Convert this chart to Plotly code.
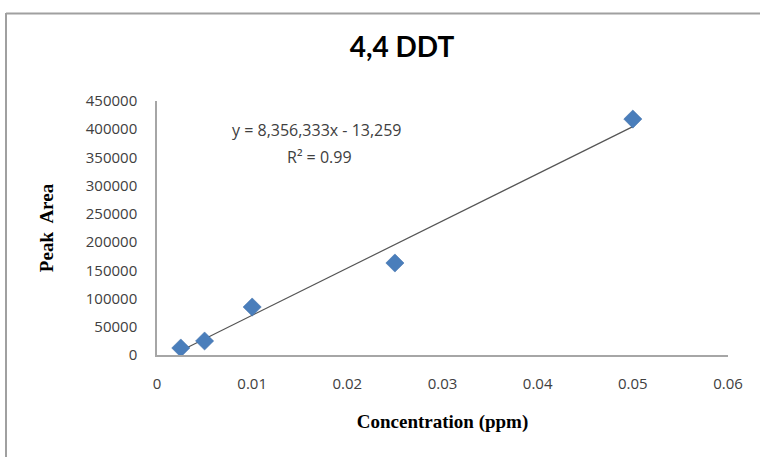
import plotly.graph_objects as go

# Calibration standards for 4,4 DDT
concentration_ppm = [0.0025, 0.005, 0.01, 0.025, 0.05]
peak_area = [12400, 24800, 85000, 163000, 418000]

# Linear trendline as reported
slope = 8356333
intercept = -13259
r_squared = 0.99

x_ticks = [0, 0.01, 0.02, 0.03, 0.04, 0.05, 0.06]
x_tick_text = ["0", "0.01", "0.02", "0.03", "0.04", "0.05", "0.06"]
y_ticks = [0, 50000, 100000, 150000, 200000, 250000, 300000, 350000, 400000, 450000]
y_tick_text = [str(v) for v in y_ticks]

trend_x = [min(concentration_ppm), max(concentration_ppm)]
trend_y = [slope * x + intercept for x in trend_x]

label_font = "Open Sans, Lato, Arial, sans-serif"
serif_font = "Liberation Serif, Times New Roman, serif"
text_color = "#404040"
axis_color = "#a6a6a6"

# plot-area geometry in pixels, used for the outer frame lines
L, R, T, B = 157, 32, 101, 102
W, H = 760, 457
pw, ph = W - L - R, H - T - B

fig = go.Figure()
fig.add_trace(go.Scatter(
    x=trend_x, y=trend_y, mode="lines",
    line=dict(color="#555555", width=1.2),
    hoverinfo="skip", showlegend=False,
))
fig.add_trace(go.Scatter(
    x=concentration_ppm, y=peak_area, mode="markers",
    marker=dict(symbol="diamond", size=14, color="#4a7ebb",
                line=dict(color="#3c6da8", width=0.5)),
    showlegend=False,
))

fig.update_layout(
    width=W, height=H,
    margin=dict(l=L, r=R, t=T, b=B),
    paper_bgcolor="white", plot_bgcolor="white",
    title=dict(text="<b>4,4 DDT</b>", x=402 / W, xanchor="center",
               y=1 - 47 / H, yanchor="middle",
               font=dict(family="Lato, Open Sans, sans-serif", size=28, color="#000000")),
    xaxis=dict(
        range=[0, 0.06], tickvals=x_ticks, ticktext=x_tick_text,
        showgrid=False, zeroline=False, showline=True,
        linecolor=axis_color, linewidth=1.5, ticks="",
        ticklabelstandoff=14,
        tickfont=dict(family=label_font, size=15, color=text_color),
        title=dict(text="<b>Concentration (ppm)</b>", standoff=23,
                   font=dict(family=serif_font, size=19, color="#000000")),
    ),
    yaxis=dict(
        range=[0, 450000], tickvals=y_ticks, ticktext=y_tick_text,
        showgrid=False, zeroline=False, showline=True,
        linecolor=axis_color, linewidth=1.5, ticks="",
        ticklabelstandoff=15,
        tickfont=dict(family=label_font, size=15, color=text_color),
        title=dict(text="<b>Peak  Area</b>", standoff=27,
                   font=dict(family=serif_font, size=19, color="#000000")),
    ),
    annotations=[
        dict(text=f"y = {slope:,}x - {abs(intercept):,}",
             x=0.0168, y=398600, xref="x", yref="y",
             xanchor="center", yanchor="middle", showarrow=False,
             font=dict(family=label_font, size=16, color=text_color)),
        dict(text=f"R² = {r_squared}",
             x=0.0171, y=350800, xref="x", yref="y",
             xanchor="center", yanchor="middle", showarrow=False,
             font=dict(family=label_font, size=16, color=text_color)),
    ],
    shapes=[
        dict(type="line", xref="paper", yref="paper",
             x0=(6 - L) / pw, x1=(W - L) / pw,
             y0=(H - B - 13.5) / ph, y1=(H - B - 13.5) / ph,
             line=dict(color="#a0a0a0", width=2)),
        dict(type="line", xref="paper", yref="paper",
             x0=(6 - L) / pw, x1=(6 - L) / pw,
             y0=-B / ph, y1=(H - B - 13) / ph,
             line=dict(color="#a0a0a0", width=2)),
    ],
)

fig.write_html("out.html")
